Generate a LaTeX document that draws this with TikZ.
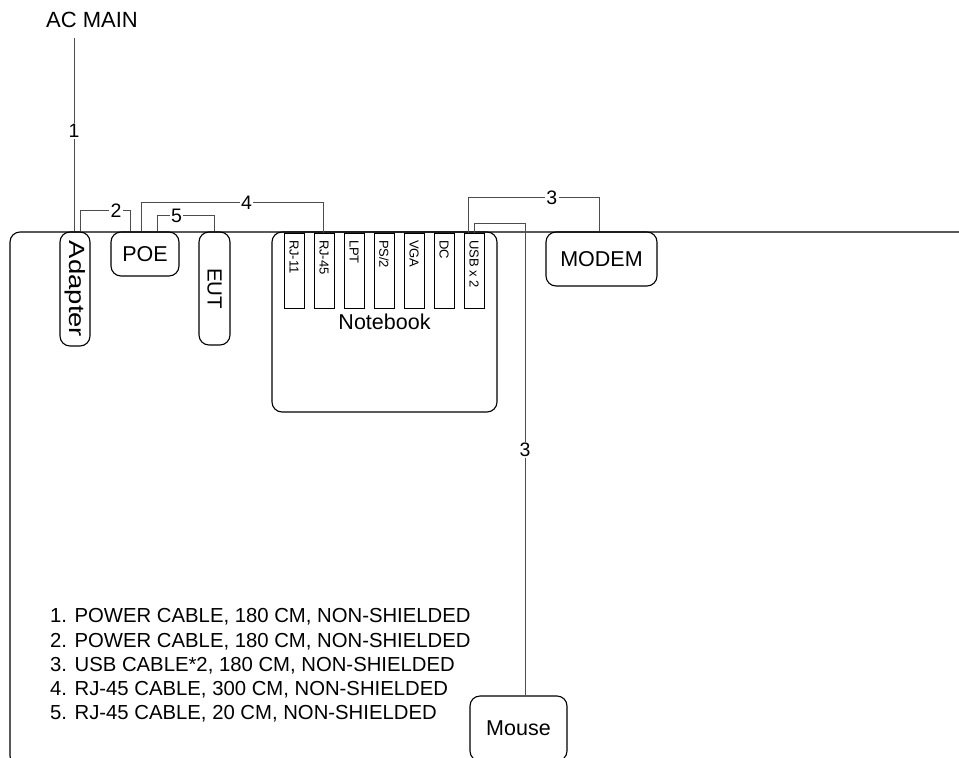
\documentclass[tikz,border=0pt]{standalone}
\usepackage{fontspec}
\setmainfont{Liberation Sans}
\begin{document}
\begin{tikzpicture}[x=1pt,y=-1pt,
  dev/.style={draw,line width=1.1pt,rounded corners=10pt,inner sep=0pt,font=\fontsize{21.5}{25}\selectfont},
  port/.style={draw,line width=1pt,minimum width=20pt,minimum height=75pt,inner sep=0pt,font=\fontsize{13}{15}\selectfont},
  cable/.style={draw=black!70,line width=0.9pt},
  num/.style={fill=white,inner sep=1.5pt,font=\fontsize{19.5}{22}\selectfont}]
\useasboundingbox (0,0) rectangle (959,758);
\clip (0,0) rectangle (959,758);
% table
\draw[line width=1.1pt,rounded corners=10pt] (10,232) rectangle (1010,766);
% devices
\node[font=\fontsize{22}{25}\selectfont] (acmain) at (92,20) {AC MAIN};
\node[dev,minimum width=30pt,minimum height=114pt,font=\fontsize{22}{26}\selectfont] (adapter) at (75,289) {\rotatebox{-90}{\scalebox{1.25}[1]{Adapter}}};
\node[dev,minimum width=68pt,minimum height=44pt] (poe) at (145,254) {POE};
\node[dev,minimum width=31pt,minimum height=113pt,font=\fontsize{20.5}{24}\selectfont] (eut) at (214.5,288.5) {\rotatebox{-90}{EUT}};
\node[dev,minimum width=225pt,minimum height=180pt] (notebook) at (384.5,322) {Notebook};
\node[dev,minimum width=111pt,minimum height=54pt] (modem) at (601.5,259) {MODEM};
\node[dev,minimum width=97pt,minimum height=65pt] (mouse) at (518.5,728.5) {Mouse};
\foreach \p/\n [count=\i from 0] in {RJ-11/rj11,RJ-45/rj45,LPT/lpt,{PS/2}/ps2,VGA/vga,DC/dc,USB x 2/usb}
  \node[port] (\n) at (294+30*\i,270.5) {\rotatebox{-90}{\makebox[61pt][l]{\p}}};
% cables
\coordinate (acend) at (74,38);
\draw[cable] (acend) -- node[num,pos=0.48]{1} (acend |- adapter.north);
\draw[cable] ([xshift=5pt]adapter.north) -- ++(0,-21) -| node[num,pos=0.36]{2} ([xshift=-15pt]poe.north);
\draw[cable] ([xshift=-4pt]poe.north) -- ++(0,-29) -| node[num,pos=0.29]{4} ([xshift=-1pt]rj45.north);
\draw[cable] ([xshift=12pt]poe.north) -- ++(0,-16) -| node[num,pos=0.17]{5} (eut.north);
\draw[cable] ([xshift=-6pt]usb.north) -- ++(0,-35) -| node[num,pos=0.32]{3} ([xshift=-2.5pt]modem.north);
\draw[cable] (usb.north) -- ++(0,-9) -| node[num,pos=0.74]{3} ([xshift=6.5pt]mouse.north);
% cable list
\node[anchor=north west,align=left,inner sep=0pt,font=\fontsize{20.3}{24.2}\selectfont] (cables) at (50,608.5) {1. POWER CABLE, 180 CM, NON-SHIELDED\\2. POWER CABLE, 180 CM, NON-SHIELDED\\3. USB CABLE*2, 180 CM, NON-SHIELDED\\4. RJ-45 CABLE, 300 CM, NON-SHIELDED\\5. RJ-45 CABLE, 20 CM, NON-SHIELDED};
\end{tikzpicture}
\end{document}
